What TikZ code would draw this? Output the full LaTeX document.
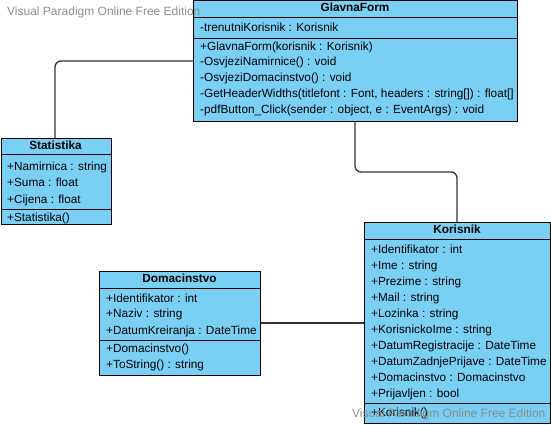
\documentclass[tikz,border=0pt]{standalone}
\usepackage{fontspec}
\setmainfont{Liberation Sans}
\definecolor{clsfill}{RGB}{122,207,245}
\definecolor{wmgray}{RGB}{140,140,140}
\definecolor{conn}{RGB}{51,51,51}
\tikzset{
  cls/.style={draw=black, line width=0.9pt, fill=clsfill, rectangle, inner sep=0pt, anchor=north west},
  sep/.style={draw=black, line width=0.9pt},
  row/.style={anchor=west, inner sep=0pt, font=\fontsize{11.8pt}{14pt}\selectfont, text height=8.5pt, text depth=2.5pt},
  head/.style={anchor=center, inner sep=0pt, font=\fontsize{11.8pt}{14pt}\selectfont\bfseries, text height=8.5pt, text depth=2.5pt},
  wm/.style={anchor=west, inner sep=0pt, text=wmgray, font=\fontsize{12pt}{14pt}\selectfont, text height=8.6pt, text depth=2.5pt},
  assoc/.style={draw=conn, line width=1.3pt, rounded corners=6pt},
}
\begin{document}
\begin{tikzpicture}[x=1pt,y=-1pt]
\useasboundingbox (0,0) rectangle (551,424);
% connectors
\coordinate (c1) at (55,61);
\coordinate (c2a) at (355,172);
\coordinate (c2b) at (457,172);
% GlavnaForm
\node[cls, minimum width=324pt, minimum height=121pt] (gf) at (193,0) {};
\draw[sep] (193,17) -- (517,17);
\draw[sep] (193,38) -- (517,38);
\node[head] (gfh) at (355,8.5) {GlavnaForm};
\node[row] (gfa1) at (200,28.5) {-trenutniKorisnik : Korisnik};
\node[row] (gfm1) at (200,47) {+GlavnaForm(korisnik : Korisnik)};
\node[row] (gfm2) at (200,62.5) {-OsvjeziNamirnice() : void};
\node[row] (gfm3) at (200,78.5) {-OsvjeziDomacinstvo() : void};
\node[row] (gfm4) at (200,94.5) {-GetHeaderWidths(titlefont : Font, headers : string[]) : float[]};
\node[row] (gfm5) at (200,110) {-pdfButton\_Click(sender : object, e : EventArgs) : void};
% Statistika
\node[cls, minimum width=110pt, minimum height=86pt] (st) at (0.5,138) {};
\draw[sep] (0.5,154) -- (110.5,154);
\draw[sep] (0.5,209) -- (110.5,209);
\node[head] (sth) at (55.5,146.5) {Statistika};
\node[row] (sta1) at (7,167.5) {+Namirnica : string};
\node[row] (sta2) at (7,183.5) {+Suma : float};
\node[row] (sta3) at (7,200) {+Cijena : float};
\node[row] (stm1) at (7,218) {+Statistika()};
% Domacinstvo
\node[cls, minimum width=161pt, minimum height=104pt] (dm) at (99,271) {};
\draw[sep] (99,288) -- (260,288);
\draw[sep] (99,340) -- (260,340);
\node[head] (dmh) at (179.5,279) {Domacinstvo};
\node[row] (dma1) at (106,299) {+Identifikator : int};
\node[row] (dma2) at (106,314.5) {+Naziv : string};
\node[row] (dma3) at (106,331) {+DatumKreiranja : DateTime};
\node[row] (dmm1) at (106,349.5) {+Domacinstvo()};
\node[row] (dmm2) at (106,365) {+ToString() : string};
% Korisnik
\node[cls, minimum width=186pt, minimum height=201pt] (ko) at (364,222) {};
\draw[sep] (364,239) -- (550,239);
\draw[sep] (364,403) -- (550,403);
\node[head] (koh) at (457,230.5) {Korisnik};
\node[row] (koa1) at (371,250.5) {+Identifikator : int};
\node[row] (koa2) at (371,266.5) {+Ime : string};
\node[row] (koa3) at (371,282.5) {+Prezime : string};
\node[row] (koa4) at (371,298.5) {+Mail : string};
\node[row] (koa5) at (371,314.5) {+Lozinka : string};
\node[row] (koa6) at (371,330.5) {+KorisnickoIme : string};
\node[row] (koa7) at (371,346.5) {+DatumRegistracije : DateTime};
\node[row] (koa8) at (371,362.5) {+DatumZadnjePrijave : DateTime};
\node[row] (koa9) at (371,378.5) {+Domacinstvo : Domacinstvo};
\node[row] (koa10) at (371,394.5) {+Prijavljen : bool};
\node[row] (kom1) at (371,413) {+Korisnik()};
% connectors
\draw[assoc] (gf.west |- c1) -- (c1) -- (c1 |- st.north);
\draw[assoc] (c2a |- gf.south) -- (c2a) -- (c2b) -- (c2b |- ko.north);
\draw[assoc] (dm.east |- 0,323) -- (ko.west |- 0,323);
% watermarks
\node[wm] (wm1) at (7,12) {Visual Paradigm Online Free Edition};
\node[wm] (wm2) at (352,414) {Visual Paradigm Online Free Edition};
\end{tikzpicture}
\end{document}
